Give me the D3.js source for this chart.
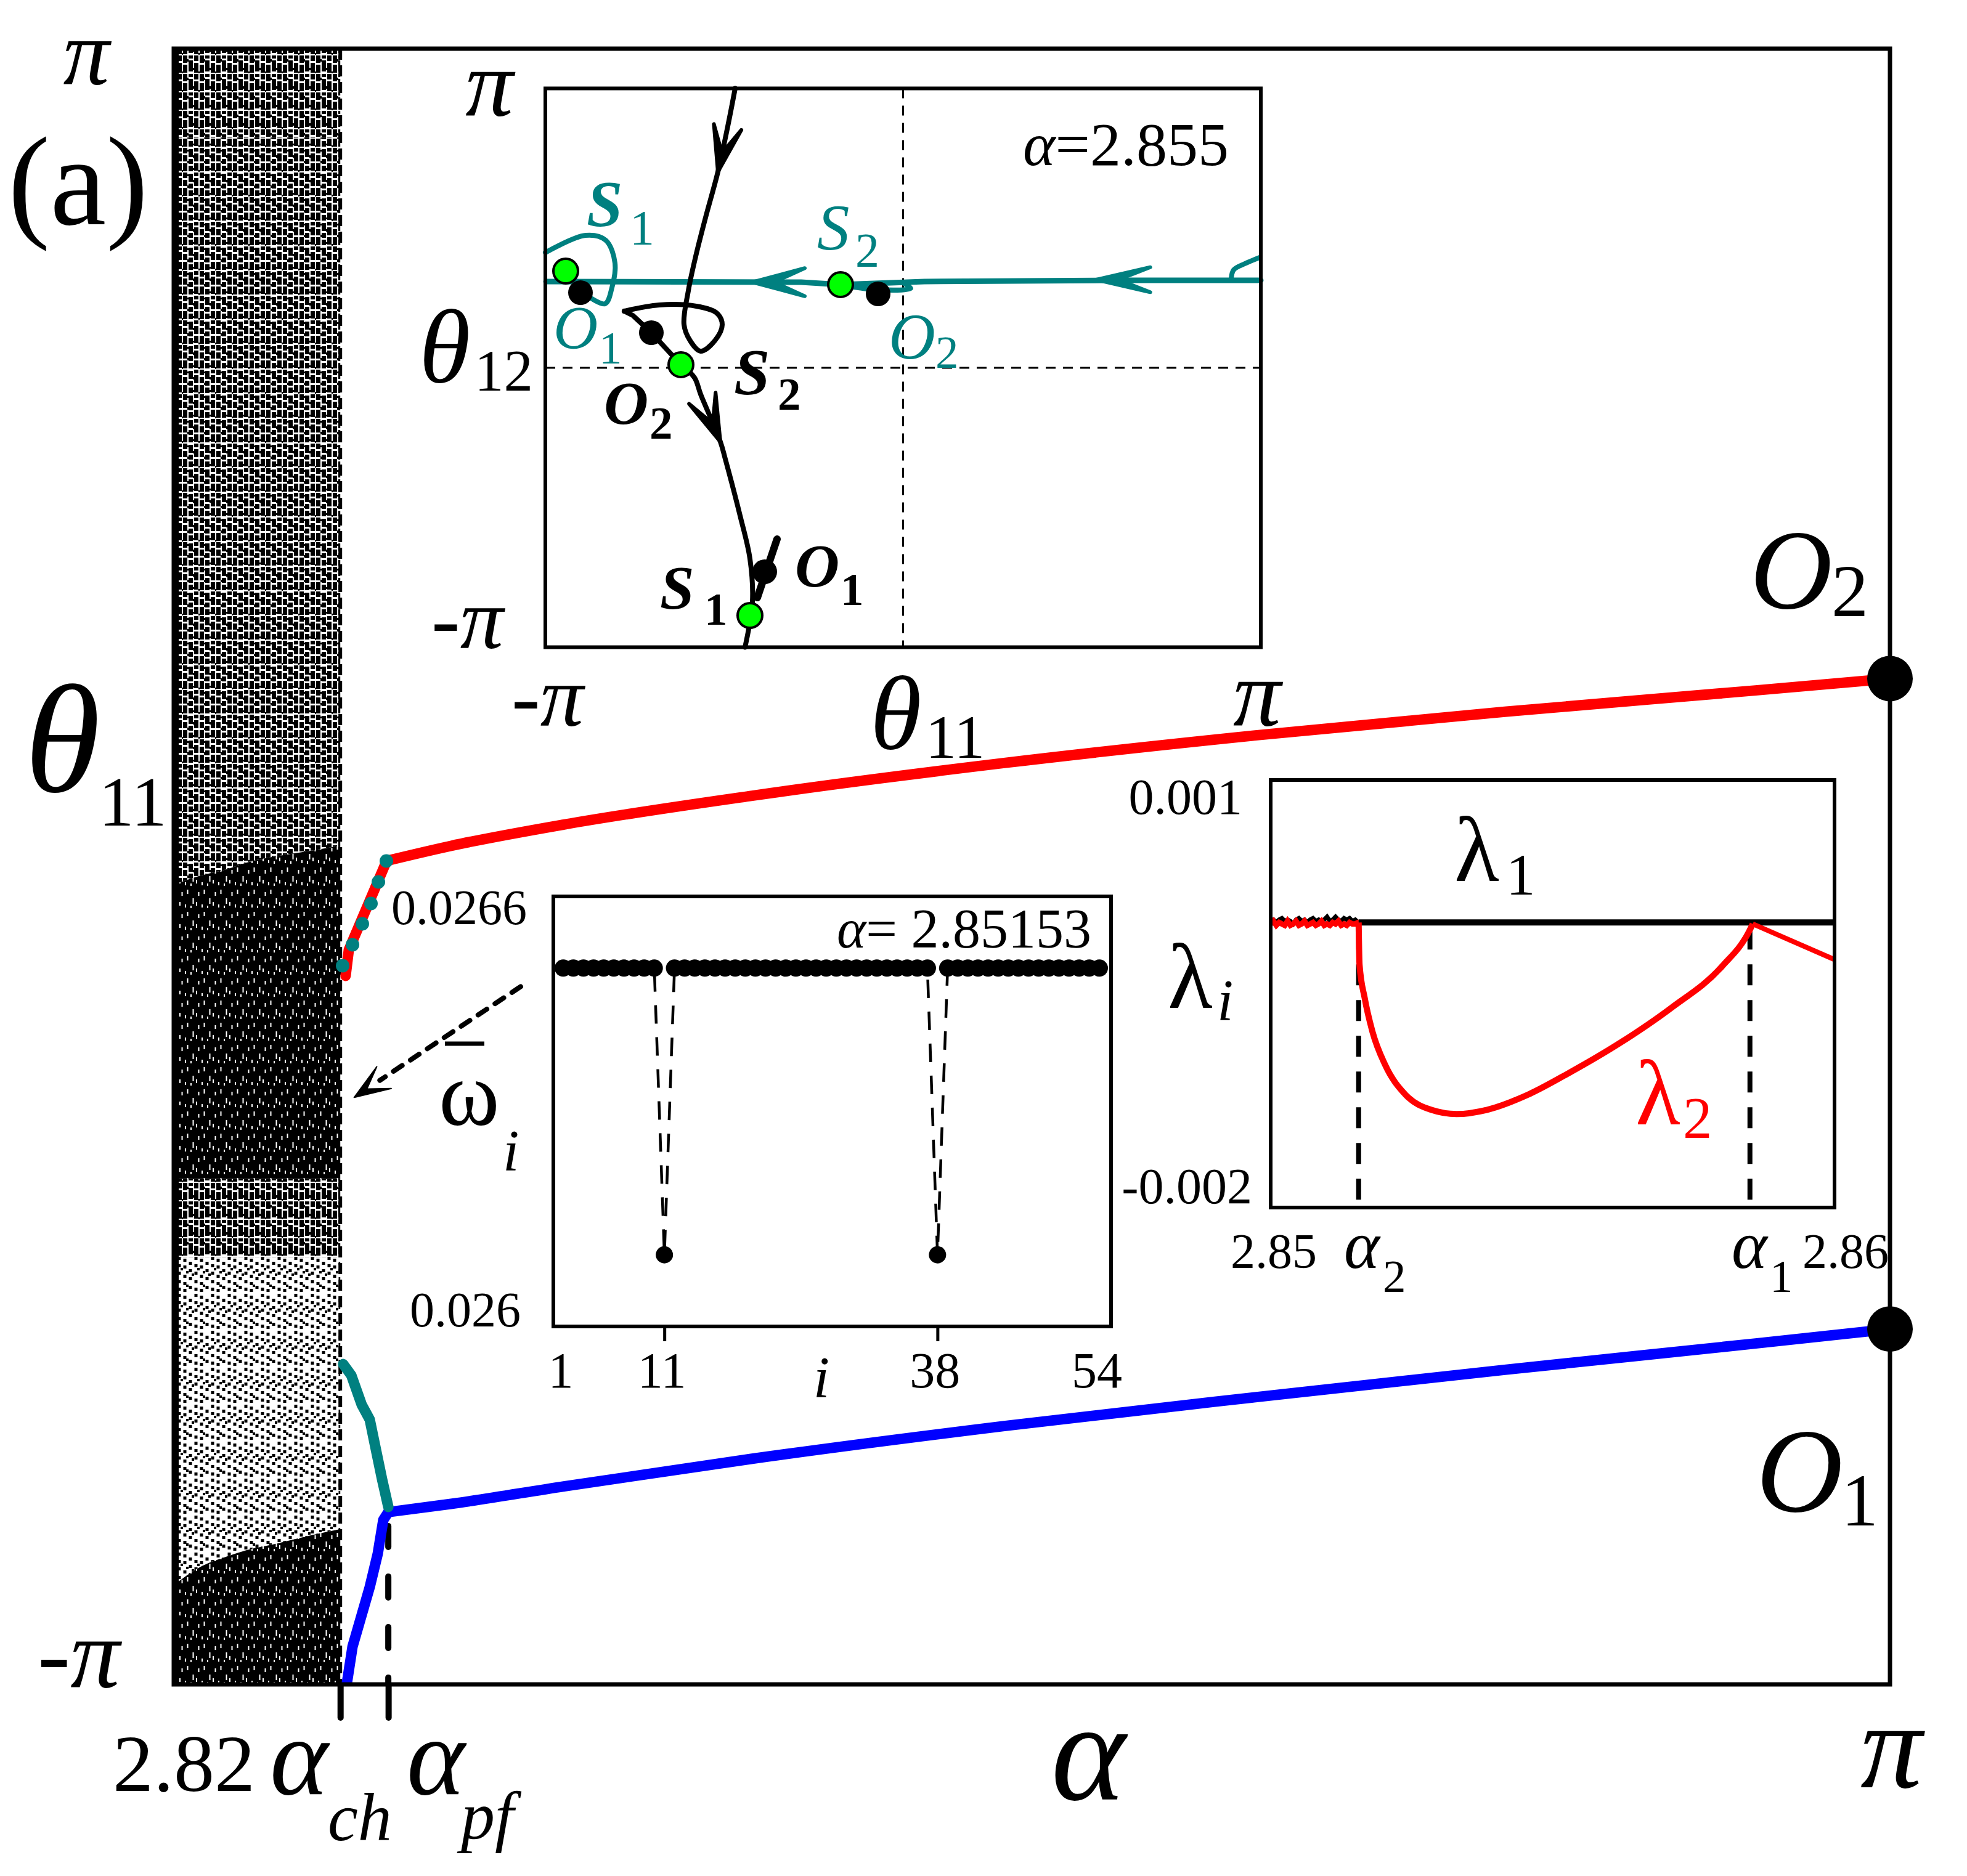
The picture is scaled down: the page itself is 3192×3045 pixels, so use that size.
<!DOCTYPE html>
<html><head><meta charset="utf-8">
<script src="https://cdn.jsdelivr.net/npm/d3@7"></script>
<style>
html,body{margin:0;padding:0;background:#fff;}
svg{display:block;}
</style></head><body>
<svg id="fig" width="3192" height="3045"></svg>
<script>
// ================= DATA =================
const PI = Math.PI;
const alphaCh = 2.8512, alphaPf = 2.8602;

// main bifurcation branches (alpha, theta11)
const redLowAlpha  = [2.8522, 2.8528, 2.8599];
const redLowTheta  = [-0.42, -0.32, 0.022];
const redAlpha = [2.8599, 2.87195, 2.89311, 2.92837, 2.97539, 3.0224, 3.06942, 3.11643, PI];
const redTheta = [0.022, 0.0794, 0.1613, 0.2720, 0.3972, 0.5031, 0.5946, 0.6765, 0.722];
const tealDotAlpha = [2.85164, 2.85349, 2.85533, 2.85695, 2.85834, 2.85984];
const tealDotTheta = [-0.3808, -0.3003, -0.2199, -0.1419, -0.0591, 0.0214];
const blueLowAlpha = [2.8524, 2.85349, 2.85672, 2.85822, 2.85926, 2.8602];
const blueLowTheta = [-3.1416, -2.9971, -2.7677, -2.6399, -2.5098, -2.48];
const blueAlpha = [2.8602, 2.87195, 2.89311, 2.92837, 2.97539, 3.0224, 3.06942, 3.11643, PI];
const blueTheta = [-2.48, -2.4483, -2.3809, -2.2749, -2.1498, -2.039, -1.9331, -1.832, -1.7765];
const tealLowAlpha = [2.85175, 2.85326, 2.85522, 2.85672, 2.85788, 2.85903, 2.8602];
const tealLowTheta = [-1.9113, -1.9539, -2.0674, -2.1242, -2.2401, -2.3537, -2.46];
const endDotAlpha = [PI, PI];
const endDotTheta = [0.722, -1.7765];

// chaotic region: density bands
const chaosAlpha = [2.82, 2.825, 2.83, 2.8336, 2.8394, 2.8455, 2.8512];
const chaosUpperBlockTop = [-0.07, -0.035, -0.01, 0.015, 0.04, 0.06, 0.08];
const chaosLowerBlockTop = [-2.76, -2.69, -2.65, -2.626, -2.60, -2.57, -2.545];
const chaosBandHi = [PI, 2.80, "upper", -1.2, -1.5, "lower"];
const chaosBandLo = [2.80, "upper", -1.2, -1.5, "lower", -PI];
const chaosBandFill = ["dark", "medium", "dense", "dark", "sparse", "dense"];

// pointer arrow (alpha, theta)
const pointerAlpha = [2.8850, 2.8538];
const pointerTheta = [-0.4612, -0.8870];

// inset 1: phase portrait (theta11, theta12)
const tealMainT11 = [3.1416, 1.8102, 0.1867, -0.5493, -0.8957, -3.136];
const tealMainT12 = [0.9837, 0.9837, 0.9698, 0.9352, 0.9629, 0.9698];
const tealLoopT11 = [-3.1416, -2.7898, -2.6112, -2.5301, -2.5571, -2.6166, -2.7736];
const tealLoopT12 = [1.2954, 1.4894, 1.4340, 1.1777, 0.9005, 0.7204, 0.8105];
const tealHookT11 = [2.8817, 2.9034, 3.0008, 3.1307];
const tealHookT12 = [1.0045, 1.1015, 1.1707, 1.2400];
const tealO2T11 = [-0.5493, -0.2463, 0.0676, 0.0135];
const tealO2T12 = [0.9352, 0.8798, 0.8936, 0.9421];
const blackTopT11 = [-1.4748, -1.5397, -1.6263, -1.7345, -1.8211, -1.8861, -1.9239, -1.8698, -1.7778, -1.6534, -1.5884, -1.6371, -1.8157, -2.1404, -2.4489];
const blackTopT12 = [3.1416, 2.7156, 2.2029, 1.6903, 1.2539, 0.8659, 0.4849, 0.3048, 0.1870, 0.3048, 0.4849, 0.6165, 0.6927, 0.7066, 0.6373];
const blackMidT11 = [-2.4489, -2.3731, -2.2108, -1.9510];
const blackMidT12 = [0.6373, 0.5888, 0.3948, 0.0346];
const blackLowT11 = [-1.9510, -1.8319, -1.7778, -1.6046, -1.5614, -1.4315, -1.3449, -1.3232, -1.3882];
const blackLowT12 = [0.0346, -0.1109, -0.2979, -0.8313, -1.0253, -1.6626, -2.1475, -2.6325, -3.1416];
const o1BarT11 = [-1.1068, -1.2799];
const o1BarT12 = [-1.9259, -2.5840];
const greenT11 = [-2.963, -0.5493, -1.951, -1.3449];
const greenT12 = [1.0876, 0.9352, 0.0346, -2.7849];
const blackDotT11 = [-2.8331, -0.2192, -2.2108, -1.215];
const blackDotT12 = [0.8451, 0.8313, 0.3948, -2.293];

// inset 2: mean frequencies
const omegaIndex = d3.range(1, 55);
const omegaBar = [0.0265,0.0265,0.0265,0.0265,0.0265,0.0265,0.0265,0.0265,0.0265,0.0265,
  0.0261,0.0265,0.0265,0.0265,0.0265,0.0265,0.0265,0.0265,0.0265,0.0265,
  0.0265,0.0265,0.0265,0.0265,0.0265,0.0265,0.0265,0.0265,0.0265,0.0265,
  0.0265,0.0265,0.0265,0.0265,0.0265,0.0265,0.0265,0.0261,0.0265,0.0265,
  0.0265,0.0265,0.0265,0.0265,0.0265,0.0265,0.0265,0.0265,0.0265,0.0265,
  0.0265,0.0265,0.0265,0.0265];
const omegaTickLabels = [1, 11, 38, 54];

// inset 3: Lyapunov exponents
const alpha2 = 2.85156, alpha1 = 2.8585;
const lyapNoiseAlpha = d3.range(32).map(k => 2.85 + k * 0.00005);
const lam1Noise = [0.00001,0.00002,0.00000,0.00002,0.00003,0.00001,0.00002,0.00001,-0.00001,0.00002,0.00003,0.00001,0.00002,0.00000,0.00002,0.00003,0.00001,0.00002,0.00000,0.00002,0.00004,0.00001,0.00002,0.00004,0.00002,0.00001,0.00003,0.00002,0.00003,0.00001,0.00002,0.00000];
const lam2Noise = [-0.00001,0.00001,-0.00002,0.00000,-0.00001,-0.00002,0.00001,-0.00002,-0.00001,0.00001,-0.00002,-0.00001,0.00001,-0.00002,-0.00001,0.00000,-0.00002,-0.00001,0.00001,-0.00002,-0.00001,-0.00002,0.00000,-0.00001,0.00001,-0.00002,-0.00001,-0.00002,0.00000,-0.00001,-0.00001,0.00000];
const lam2Alpha = [2.85156, 2.851576, 2.851667, 2.851803, 2.852029, 2.852391, 2.852844, 2.853297, 2.853841, 2.854565, 2.85529, 2.856196, 2.857101, 2.858007, 2.858487, 2.85855];
const lam2Value = [0, -0.000295, -0.000529, -0.000763, -0.000998, -0.001208, -0.001314, -0.001344, -0.001314, -0.001208, -0.001056, -0.000845, -0.0006, -0.000307, -0.000061, -0.00001];
const lam2TailAlpha = [2.85855, 2.86];
const lam2TailValue = [-0.00001, -0.00026];
const lam1Alpha = [alpha2, 2.86];
const lam1Value = [0, 0];

// ================= DRAWING =================
const FONT = '"Liberation Serif", "Times New Roman", serif';
const svg = d3.select('#fig').attr('font-family', FONT);
svg.append('rect').attr('width', 3192).attr('height', 3045).attr('fill', '#fff');
const TEAL = '#008080', GREEN = '#00ff00', RED = '#ff0000', BLUE = '#0000ff';
const zip = (a, b) => a.map((v, i) => [v, b[i]]);

function txt(g, x, yy, s, o = {}) {
  const t = g.append('text').attr('x', x).attr('y', yy)
    .attr('font-family', FONT)
    .attr('font-size', o.size || 100)
    .attr('text-anchor', o.anchor || 'start')
    .attr('fill', o.fill || '#000');
  if (o.italic) t.attr('font-style', 'italic');
  if (o.bold) t.attr('font-weight', 'bold');
  t.text(s);
  return t;
}
function mixed(g, x, yy, size, parts, anchor) {
  const t = g.append('text').attr('x', x).attr('y', yy).attr('font-family', FONT)
    .attr('font-size', size).attr('text-anchor', anchor || 'start');
  parts.forEach(p => { const s = t.append('tspan').text(p[0]); if (p[1]) s.attr('font-style', 'italic'); });
  return t;
}
function arrowHead(g, tip, back, len, half, fill, sw) {
  const dx = back[0] - tip[0], dy = back[1] - tip[1];
  const L = Math.hypot(dx, dy), ux = dx / L, uy = dy / L;
  const a = half * PI / 180;
  const rot = (s) => [tip[0] + len * (ux * Math.cos(s * a) - uy * Math.sin(s * a)),
                      tip[1] + len * (ux * Math.sin(s * a) + uy * Math.cos(s * a))];
  const w1 = rot(1), w2 = rot(-1);
  const n = [tip[0] + len * 0.4 * ux, tip[1] + len * 0.4 * uy];
  g.append('path').attr('d', `M${tip}L${w1}L${n}L${w2}Z`)
    .attr('fill', fill).attr('stroke', fill).attr('stroke-width', sw || 4).attr('stroke-linejoin', 'round');
}

// ---------- patterns (texture of the chaotic region) ----------
const defs = svg.append('defs');
function makePattern(id, w, h, bg, rects, fill) {
  const p = defs.append('pattern').attr('id', id).attr('patternUnits', 'userSpaceOnUse')
    .attr('width', w).attr('height', h);
  if (bg) p.append('rect').attr('width', w).attr('height', h).attr('fill', bg);
  rects.forEach(r => p.append('rect').attr('x', r[0]).attr('y', r[1]).attr('width', r[2]).attr('height', r[3]).attr('fill', fill));
}
makePattern('chaos-dense', 27, 36, '#000', [[6.5,4,2,7],[15.5,18,2,9],[24.5,8,2,6],[3,28,2,5],[12,30,2,4],[21,24,2,6]], '#fff');
makePattern('chaos-dark', 27, 30, null, [[0,0,7,12],[0,15,7,13],[9,0,7,5],[9,8,7,18],[18,0,7,9],[18,12,7,16],[7,6,2,4],[16,20,2,4],[25,26,2,3]], '#000');
makePattern('chaos-medium', 27, 40, null, [[0,0,7,9],[0,12,7,10],[0,25,7,13],[9,2,7,13],[9,18,7,8],[9,29,7,9],
  [18,0,7,6],[18,9,7,13],[18,25,7,12],[7,21,2,4],[16,12,2,4],[25,36,2,3],[7,3,2,3],[16,33,2,3]], '#000');
makePattern('chaos-sparse', 27, 60, null, [[0.5,3,5,5],[0.5,14,5,5],[0.5,29,5,5],[0.5,41,5,5],[0.5,52,5,5],
  [9.5,8,5,5],[9.5,20,5,5],[9.5,33,5,5],[9.5,47,5,5],
  [18.5,0,5,5],[18.5,12,5,5],[18.5,24,5,5],[18.5,38,5,5],[18.5,50,5,5],
  [5,45,4,4],[14,27,4,4],[23,18,4,4],[5,23,4,4]], '#000');

// ---------- main scales ----------
const M = {l: 282, r: 3067, t: 79, b: 2734};
const x = d3.scaleLinear().domain([2.82, PI]).range([M.l, M.r]);
const y = d3.scaleLinear().domain([-PI, PI]).range([M.b, M.t]);

defs.append('clipPath').attr('id', 'mainclip').append('rect')
  .attr('x', M.l).attr('y', M.t).attr('width', M.r - M.l).attr('height', M.b - M.t);

// chaotic bands
const gChaos = svg.append('g').attr('clip-path', 'url(#mainclip)');
const resolve = (v, i) => v === 'upper' ? chaosUpperBlockTop[i] : v === 'lower' ? chaosLowerBlockTop[i] : v;
const bandArea = d3.area().x(d => x(d.a)).y0(d => y(d.lo)).y1(d => y(d.hi)).curve(d3.curveMonotoneX);
chaosBandFill.forEach((f, b) => {
  const pts = chaosAlpha.map((a, i) => ({a, hi: resolve(chaosBandHi[b], i), lo: resolve(chaosBandLo[b], i)}));
  gChaos.append('path').attr('d', bandArea(pts)).attr('fill', `url(#chaos-${f})`);
});
gChaos.append('rect').attr('x', x(2.82)).attr('y', y(PI)).attr('width', 8).attr('height', y(-PI) - y(PI)).attr('fill', '#000');

// dashed alpha_ch line
svg.append('line').attr('x1', x(alphaCh)).attr('x2', x(alphaCh)).attr('y1', y(PI)).attr('y2', y(-PI))
  .attr('stroke', '#000').attr('stroke-width', 6).attr('stroke-dasharray', '18,9');
// alpha_pf dashed line
svg.append('line').attr('x1', x(alphaPf)).attr('x2', x(alphaPf)).attr('y1', y(-2.5) + 14).attr('y2', y(-PI))
  .attr('stroke', '#000').attr('stroke-width', 10).attr('stroke-dasharray', '34,48').attr('stroke-linecap', 'round');

// axis ticks below
const axG = svg.append('g').attr('transform', `translate(0,${M.b})`)
  .call(d3.axisBottom(x).tickValues([alphaCh, alphaPf]).tickSize(54).tickFormat(''));
axG.select('.domain').remove();
axG.selectAll('line').attr('stroke', '#000').attr('stroke-width', 10).attr('stroke-linecap', 'round');

// curves
const line = d3.line().x(d => x(d[0])).y(d => y(d[1]));
const smooth = d3.line().x(d => x(d[0])).y(d => y(d[1])).curve(d3.curveMonotoneX);
const cw = 17;
svg.append('path').attr('d', line(zip(redLowAlpha, redLowTheta))).attr('fill', 'none').attr('stroke', RED).attr('stroke-width', cw).attr('stroke-linecap', 'round').attr('stroke-linejoin', 'round');
svg.append('path').attr('d', smooth(zip(redAlpha, redTheta))).attr('fill', 'none').attr('stroke', RED).attr('stroke-width', cw).attr('stroke-linecap', 'round');
svg.selectAll('.tdot').data(zip(tealDotAlpha, tealDotTheta)).enter().append('circle')
  .attr('cx', d => x(d[0])).attr('cy', d => y(d[1])).attr('r', 11).attr('fill', TEAL);
svg.append('path').attr('d', line(zip(blueLowAlpha, blueLowTheta))).attr('fill', 'none').attr('stroke', BLUE).attr('stroke-width', cw).attr('stroke-linejoin', 'round');
svg.append('path').attr('d', smooth(zip(blueAlpha, blueTheta))).attr('fill', 'none').attr('stroke', BLUE).attr('stroke-width', cw).attr('stroke-linecap', 'round');
svg.append('path').attr('d', line(zip(tealLowAlpha, tealLowTheta))).attr('fill', 'none').attr('stroke', TEAL).attr('stroke-width', cw).attr('stroke-linecap', 'round').attr('stroke-linejoin', 'round');

// frame
svg.append('rect').attr('x', M.l).attr('y', M.t).attr('width', M.r - M.l).attr('height', M.b - M.t)
  .attr('fill', 'none').attr('stroke', '#000').attr('stroke-width', 7);

// end dots
svg.selectAll('.edot').data(zip(endDotAlpha, endDotTheta)).enter().append('circle')
  .attr('cx', d => x(d[0])).attr('cy', d => y(d[1])).attr('r', 37).attr('fill', '#000');

// pointer arrow
{
  const p0 = [x(pointerAlpha[0]), y(pointerTheta[0])], p1 = [x(pointerAlpha[1]), y(pointerTheta[1])];
  const dx = p0[0] - p1[0], dy = p0[1] - p1[1], L = Math.hypot(dx, dy);
  const base = [p1[0] + dx / L * 50, p1[1] + dy / L * 50];
  svg.append('line').attr('x1', p0[0]).attr('y1', p0[1]).attr('x2', base[0]).attr('y2', base[1])
    .attr('stroke', '#000').attr('stroke-width', 8).attr('stroke-dasharray', '17,16').attr('stroke-linecap', 'round');
  arrowHead(svg, p1, p0, 62, 20, '#000', 2);
}

// main labels
txt(svg, 140, 137, 'π', {size: 150, italic: true, anchor: 'middle'});
txt(svg, 13, 364, '(a)', {size: 205});
txt(svg, 40, 1285, 'θ', {size: 250, italic: true});
txt(svg, 160, 1340, '11', {size: 115});
mixed(svg, 61, 2738, 160, [['-'], ['π', true]]);
txt(svg, 183, 2907, '2.82', {size: 132});
txt(svg, 438, 2912, 'α', {size: 180, italic: true});
txt(svg, 532, 2987, 'ch', {size: 110, italic: true});
txt(svg, 660, 2912, 'α', {size: 180, italic: true});
txt(svg, 748, 2985, 'pf', {size: 110, italic: true});
txt(svg, 1766, 2921, 'α', {size: 230, italic: true, anchor: 'middle'});
txt(svg, 3069, 2901, 'π', {size: 200, italic: true, anchor: 'middle'});
txt(svg, 2840, 987, 'O', {size: 185, italic: true});
txt(svg, 2972, 1000, '2', {size: 120});
txt(svg, 2850, 2453, 'O', {size: 195, italic: true});
txt(svg, 2988, 2476, '1', {size: 120});

// ================= INSET 1 =================
const g1 = svg.append('g');
const x1 = d3.scaleLinear().domain([-PI, PI]).range([885, 2046]);
const y1 = d3.scaleLinear().domain([-PI, PI]).range([1050.5, 143.5]);
g1.append('rect').attr('x', 885).attr('y', 143.5).attr('width', 1161).attr('height', 907).attr('fill', '#fff');
g1.append('line').attr('x1', x1(0)).attr('x2', x1(0)).attr('y1', y1(PI)).attr('y2', y1(-PI))
  .attr('stroke', '#000').attr('stroke-width', 3).attr('stroke-dasharray', '16,12');
g1.append('line').attr('x1', x1(-PI)).attr('x2', x1(PI)).attr('y1', y1(0)).attr('y2', y1(0))
  .attr('stroke', '#000').attr('stroke-width', 3).attr('stroke-dasharray', '16,12');
const l1 = d3.line().x(d => x1(d[0])).y(d => y1(d[1]));
const c1 = d3.line().x(d => x1(d[0])).y(d => y1(d[1])).curve(d3.curveCatmullRom.alpha(0.5));
const drawP = (pathGen, a, b, col, w) => g1.append('path').attr('d', pathGen(zip(a, b))).attr('fill', 'none')
  .attr('stroke', col).attr('stroke-width', w).attr('stroke-linecap', 'round').attr('stroke-linejoin', 'round');
drawP(l1, tealMainT11, tealMainT12, TEAL, 9);
drawP(c1, tealLoopT11, tealLoopT12, TEAL, 8);
drawP(c1, tealHookT11, tealHookT12, TEAL, 8);
drawP(c1, tealO2T11, tealO2T12, TEAL, 8);
drawP(c1, blackTopT11, blackTopT12, '#000', 8);
drawP(l1, blackMidT11, blackMidT12, '#000', 8);
drawP(c1, blackLowT11, blackLowT12, '#000', 8);
drawP(l1, o1BarT11, o1BarT12, '#000', 12);
const P1 = (a, b) => [x1(a), y1(b)];
arrowHead(g1, P1(1.6965, 0.9906), P1(2.5, 0.9906), 90, 13, TEAL, 6);
arrowHead(g1, P1(-1.3232, 0.9629), P1(-0.6, 0.9629), 88, 15, TEAL, 6);
arrowHead(g1, P1(-1.6263, 2.2029), P1(-1.5397, 2.7156), 78, 17, '#000', 6);
arrowHead(g1, P1(-1.6046, -0.8313), P1(-1.7778, -0.2979), 80, 17, '#000', 6);
g1.selectAll('.bd').data(zip(blackDotT11, blackDotT12)).enter().append('circle')
  .attr('cx', d => x1(d[0])).attr('cy', d => y1(d[1])).attr('r', 20).attr('fill', '#000');
g1.selectAll('.gd').data(zip(greenT11, greenT12)).enter().append('circle')
  .attr('cx', d => x1(d[0])).attr('cy', d => y1(d[1])).attr('r', 20).attr('fill', GREEN)
  .attr('stroke', '#000').attr('stroke-width', 4);
g1.append('rect').attr('x', 885).attr('y', 143.5).attr('width', 1161).attr('height', 907)
  .attr('fill', 'none').attr('stroke', '#000').attr('stroke-width', 6);
txt(g1, 794, 187, 'π', {size: 155, italic: true, anchor: 'middle'});
mixed(g1, 700, 1052, 140, [['-'], ['π', true]]);
mixed(g1, 830, 1178, 140, [['-'], ['π', true]]);
txt(g1, 680, 620, 'θ', {size: 170, italic: true});
txt(g1, 770, 634, '12', {size: 95});
txt(g1, 1412, 1215, 'θ', {size: 170, italic: true});
txt(g1, 1502, 1230, '11', {size: 100});
txt(g1, 2001, 1177, 'π', {size: 155, italic: true});
mixed(g1, 1994, 268, 100, [['α', true], ['=2.855']], 'end');
txt(g1, 952, 367, 'S', {size: 105, italic: true, bold: true, fill: TEAL});
txt(g1, 1022, 397, '1', {size: 80, fill: TEAL});
txt(g1, 1326, 405, 'S', {size: 105, italic: true, fill: TEAL});
txt(g1, 1388, 432, '2', {size: 78, fill: TEAL});
txt(g1, 898, 565, 'O', {size: 100, italic: true, fill: TEAL});
txt(g1, 972, 590, '1', {size: 75, fill: TEAL});
txt(g1, 1442, 582, 'O', {size: 105, italic: true, fill: TEAL});
txt(g1, 1518, 597, '2', {size: 75, fill: TEAL});
txt(g1, 1191, 640, 'S', {size: 105, italic: true, bold: true});
txt(g1, 1262, 665, '2', {size: 75, bold: true});
txt(g1, 980, 688, 'O', {size: 100, italic: true, bold: true});
txt(g1, 1054, 712, '2', {size: 75, bold: true});
txt(g1, 1290, 952, 'O', {size: 100, italic: true, bold: true});
txt(g1, 1364, 982, '1', {size: 75, bold: true});
txt(g1, 1071, 987, 'S', {size: 100, italic: true, bold: true});
txt(g1, 1143, 1014, '1', {size: 75, bold: true});

// ================= INSET 2 =================
const g2 = svg.append('g');
const x2 = d3.scaleLinear().domain([1, 54]).range([914, 1784]);
const y2 = d3.scaleLinear().domain([0.026, 0.0266]).range([2153, 1455]);
g2.append('rect').attr('x', 898).attr('y', 1455).attr('width', 905).attr('height', 698).attr('fill', '#fff');
const om = zip(omegaIndex, omegaBar);
g2.append('path').attr('d', d3.line().x(d => x2(d[0])).y(d => y2(d[1]))(om))
  .attr('fill', 'none').attr('stroke', '#000').attr('stroke-width', 4.5).attr('stroke-dasharray', '30,22');
g2.selectAll('.od').data(om).enter().append('circle')
  .attr('cx', d => x2(d[0])).attr('cy', d => y2(d[1])).attr('r', 14).attr('fill', '#000');
g2.append('rect').attr('x', 898).attr('y', 1455).attr('width', 905).attr('height', 698)
  .attr('fill', 'none').attr('stroke', '#000').attr('stroke-width', 6);
const ax2 = g2.append('g').attr('transform', 'translate(0,2153)')
  .call(d3.axisBottom(x2).tickValues([11, 38]).tickSize(24).tickFormat(''));
ax2.select('.domain').remove();
ax2.selectAll('line').attr('stroke', '#000').attr('stroke-width', 5);
omegaTickLabels.forEach(v => txt(g2, x2(v) - 4, 2252, String(v), {size: 82, anchor: 'middle'}));
txt(g2, 1333, 2268, 'i', {size: 95, italic: true, anchor: 'middle'});
txt(g2, 855, 1500, '0.0266', {size: 80, anchor: 'end'});
txt(g2, 845, 2153, '0.026', {size: 80, anchor: 'end'});
mixed(g2, 1771, 1538, 90, [['α', true], ['= 2.85153']], 'end');
txt(g2, 712, 1826, 'ω', {size: 150});
g2.append('line').attr('x1', 722).attr('x2', 786).attr('y1', 1694).attr('y2', 1694).attr('stroke', '#000').attr('stroke-width', 7);
txt(g2, 816, 1900, 'i', {size: 95, italic: true});

// ================= INSET 3 =================
const g3 = svg.append('g');
const x3 = d3.scaleLinear().domain([2.85, 2.86]).range([2062, 2977]);
const y3 = d3.scaleLinear().domain([-0.002, 0.001]).range([1960, 1266]);
g3.append('rect').attr('x', 2062).attr('y', 1266).attr('width', 915).attr('height', 694).attr('fill', '#fff');
const l3 = d3.line().x(d => x3(d[0])).y(d => y3(d[1]));
const c3 = d3.line().x(d => x3(d[0])).y(d => y3(d[1])).curve(d3.curveMonotoneX);
[alpha2, alpha1].forEach(a => g3.append('line').attr('x1', x3(a)).attr('x2', x3(a)).attr('y1', y3(0) + 10).attr('y2', 1960)
  .attr('stroke', '#000').attr('stroke-width', 8).attr('stroke-dasharray', '34,24'));
g3.append('path').attr('d', l3(zip(lyapNoiseAlpha, lam1Noise).concat([[alpha2, 0]]))).attr('fill', 'none').attr('stroke', '#000').attr('stroke-width', 7);
g3.append('path').attr('d', l3(zip(lam1Alpha, lam1Value))).attr('fill', 'none').attr('stroke', '#000').attr('stroke-width', 10);
g3.append('path').attr('d', l3(zip(lyapNoiseAlpha, lam2Noise).concat([[alpha2, 0]]))).attr('fill', 'none').attr('stroke', RED).attr('stroke-width', 9);
g3.append('path').attr('d', c3(zip(lam2Alpha, lam2Value))).attr('fill', 'none').attr('stroke', RED).attr('stroke-width', 10).attr('stroke-linejoin', 'round');
g3.append('path').attr('d', l3(zip(lam2TailAlpha, lam2TailValue))).attr('fill', 'none').attr('stroke', RED).attr('stroke-width', 8);
g3.append('rect').attr('x', 2062).attr('y', 1266).attr('width', 915).attr('height', 694)
  .attr('fill', 'none').attr('stroke', '#000').attr('stroke-width', 6);
txt(g3, 2016, 1321, '0.001', {size: 82, anchor: 'end'});
txt(g3, 2032, 1953, '-0.002', {size: 82, anchor: 'end'});
txt(g3, 2360, 1430, 'λ', {size: 150});
txt(g3, 2444, 1452, '1', {size: 95});
txt(g3, 1895, 1636, 'λ', {size: 150});
txt(g3, 1975, 1656, 'i', {size: 95, italic: true});
txt(g3, 2654, 1825, 'λ', {size: 150, fill: RED});
txt(g3, 2731, 1847, '2', {size: 95, fill: RED});
txt(g3, x3(2.85) + 5, 2058, '2.85', {size: 80, anchor: 'middle'});
txt(g3, 2181, 2058, 'α', {size: 110, italic: true});
txt(g3, 2244, 2097, '2', {size: 75});
txt(g3, 2810, 2058, 'α', {size: 110, italic: true});
txt(g3, 2872, 2097, '1', {size: 75});
txt(g3, 2925, 2058, '2.86', {size: 80});
</script>
</body></html>
